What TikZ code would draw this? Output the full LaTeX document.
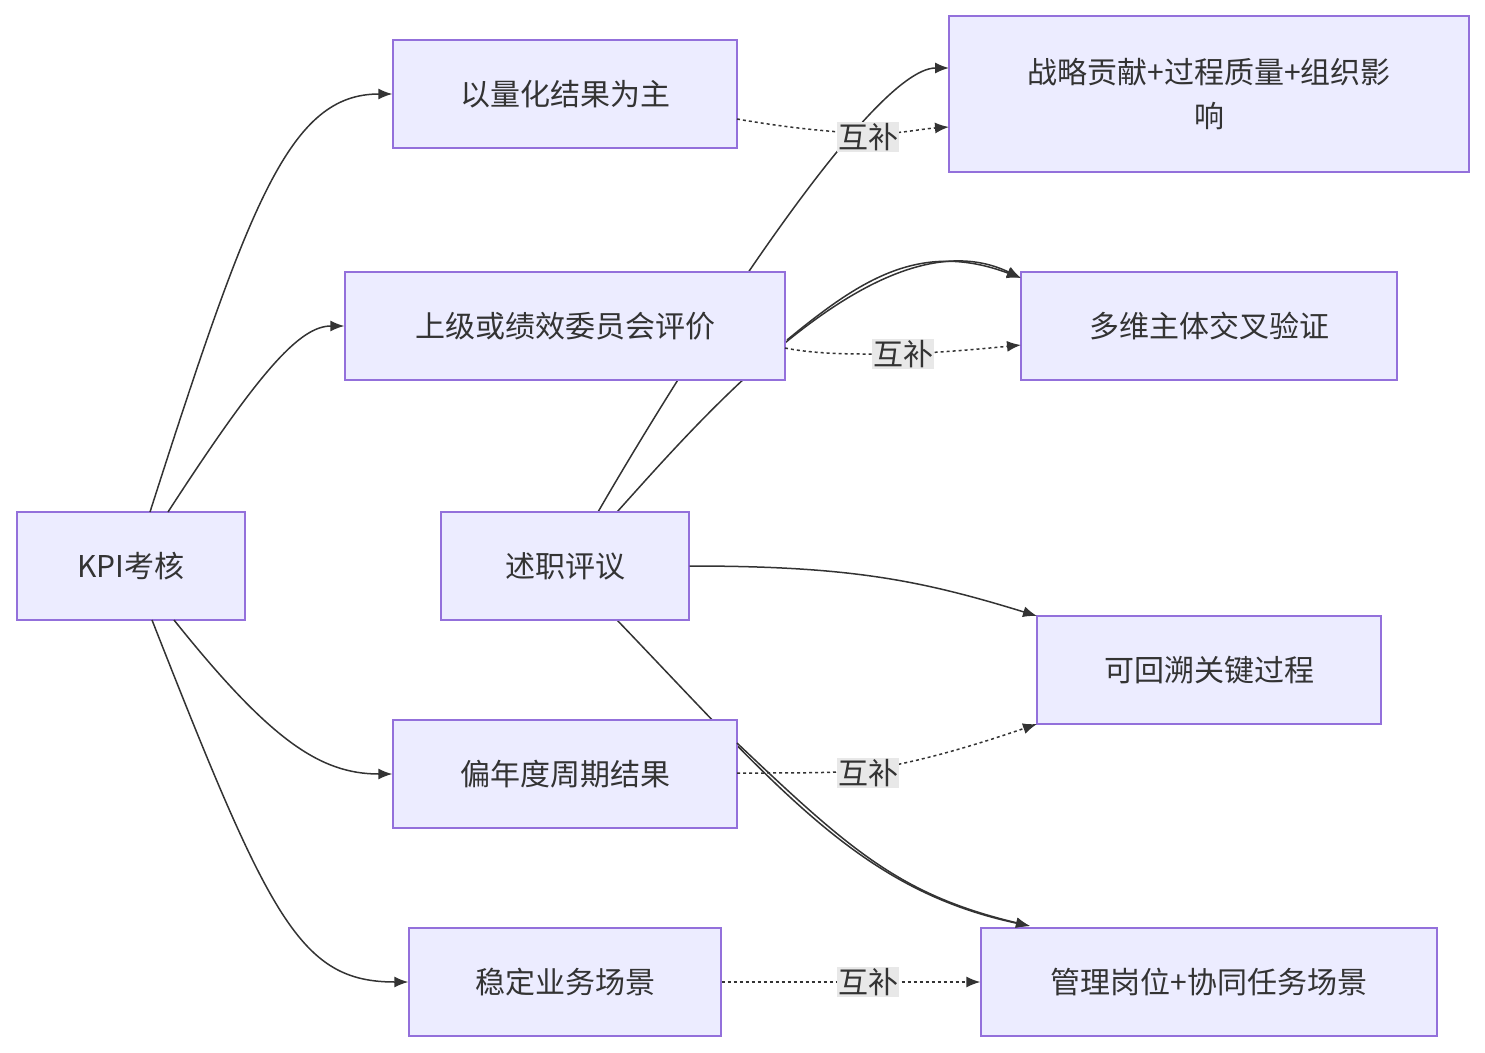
\documentclass[tikz,border=0pt]{standalone}
\usepackage{fontspec}
\setmainfont{Noto Sans CJK SC}
\usetikzlibrary{arrows.meta}
\definecolor{nf}{HTML}{ECECFF}
\definecolor{nb}{HTML}{9370DB}
\definecolor{ln}{HTML}{333333}
\definecolor{lb}{HTML}{E8E8E8}
\begin{document}
\begin{tikzpicture}[x=1pt,y=-1pt,
 box/.style={draw=nb,fill=nf,line width=1.3pt,inner sep=0pt,align=center,font=\fontsize{30}{44}\selectfont,text=ln},
 e/.style={draw=ln,line width=1.5pt,-{Latex[length=14pt,width=11pt]}},
 d/.style={e,dash pattern=on 3pt off 3pt},
 lab/.style={fill=lb,inner sep=1pt,font=\fontsize{30}{36}\selectfont,text=ln}]
\useasboundingbox (0,0) rectangle (1485,1052);
% edges behind nodes
\coordinate (s1) at (598,512); \coordinate (s2) at (617,512);
\coordinate (s3) at (617,620);
\draw[e] (s1) .. controls (680,370) and (870,68) .. (949,68);
\draw[e] (s2) .. controls (700,420) and (880,210) .. (1021,278);
\draw[e] (s3) .. controls (780,790) and (860,890) .. (1030,926);
\node[box,minimum width=228pt,minimum height=108pt] (kpi) at (131,566) {KPI考核};
\node[box,minimum width=344pt,minimum height=108pt] (a) at (565,94) {以量化结果为主};
\node[box,minimum width=440pt,minimum height=108pt] (b) at (565,326) {上级或绩效委员会评价};
\node[box,minimum width=248pt,minimum height=108pt] (c) at (565,566) {述职评议};
\node[box,minimum width=344pt,minimum height=108pt] (dd) at (565,774) {偏年度周期结果};
\node[box,minimum width=312pt,minimum height=108pt] (f) at (565,982) {稳定业务场景};
\node[box,minimum width=520pt,minimum height=156pt] (g) at (1209,94) {战略贡献+过程质量+组织影\\响};
\node[box,minimum width=376pt,minimum height=108pt] (h) at (1209,326) {多维主体交叉验证};
\node[box,minimum width=344pt,minimum height=108pt] (i) at (1209,670) {可回溯关键过程};
\node[box,minimum width=456pt,minimum height=108pt] (j) at (1209,982) {管理岗位+协同任务场景};
% KPI edges
\draw[e] (150,512) .. controls (250,200) and (290,94) .. (a.west);
\draw[e] (168,512) .. controls (260,370) and (300,326) .. (b.west);
\draw[e] (174,620) .. controls (270,740) and (320,774) .. (dd.west);
\draw[e] (152,620) .. controls (270,920) and (300,982) .. (f.west);
% other solid
\draw[e] (787,340) .. controls (860,280) and (920,240) .. (1021,278);
\draw[e] (737,743) .. controls (850,850) and (900,895) .. (1030,926);
\draw[e] (c.east) .. controls (850,566) and (920,580) .. (1037,616);
% dotted
\draw[d] (737,119) .. controls (800,130) and (840,132) .. (868,134) .. controls (900,134) and (920,129) .. (949,127);
\node[lab] at (868,137) {互补};
\draw[d] (785,348) .. controls (820,355) and (860,354) .. (903,354) .. controls (950,352) and (990,348) .. (1021,345);
\node[lab] at (903,354) {互补};
\draw[d] (737,773) .. controls (800,773) and (840,773) .. (868,770) .. controls (930,760) and (990,740) .. (1037,724);
\node[lab] at (868,773) {互补};
\draw[d] (f.east) -- (j.west);
\node[lab] at (868,982) {互补};
\end{tikzpicture}
\end{document}
